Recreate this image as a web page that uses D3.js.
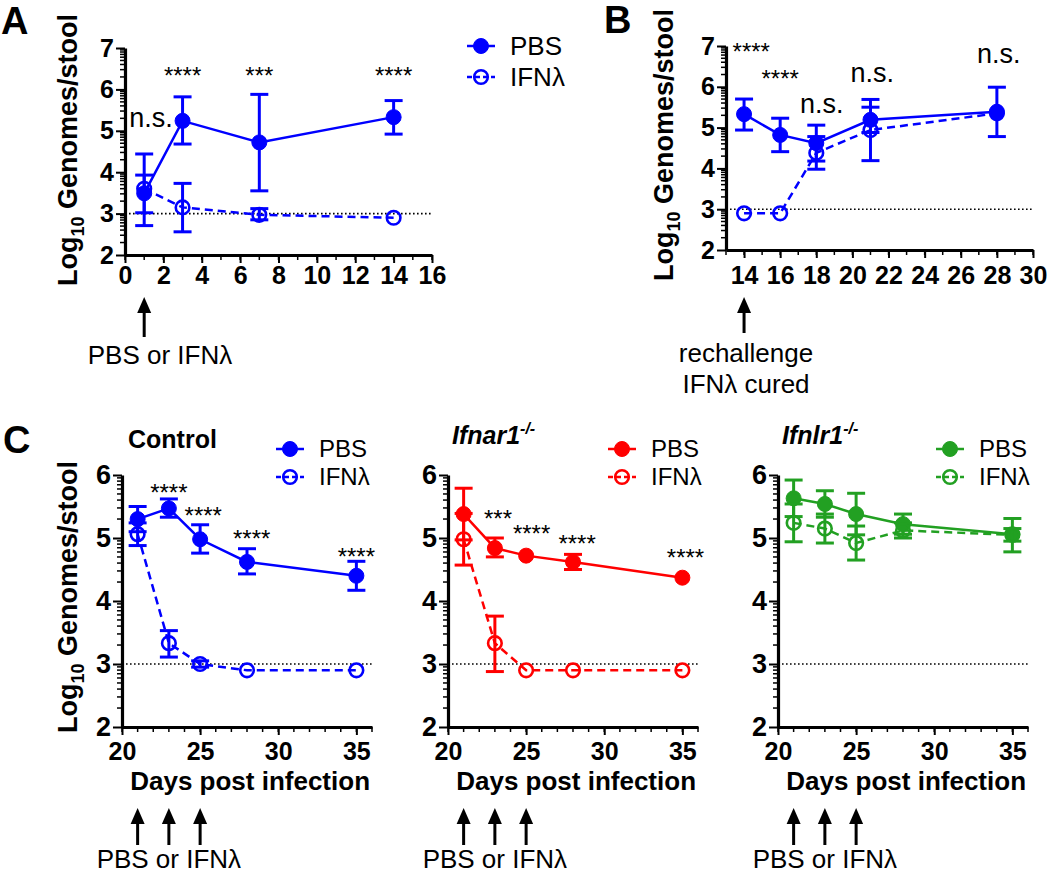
<!DOCTYPE html>
<html><head><meta charset="utf-8">
<script src="https://cdn.jsdelivr.net/npm/d3@7"></script>
<style>
body{margin:0;background:#fff}
svg text{font-family:"Liberation Sans",Arial,Helvetica,sans-serif;fill:#000}
</style>
</head><body>
<svg id="chart" width="1050" height="876"></svg>
<script>
// ---------------- DATA ----------------
// Panel A (days 1-14)
const daysA   = [1, 3, 7, 14];
const pbsA    = [3.49, 5.24, 4.72, 5.33];
const pbsA_lo = [3.02, 4.68, 3.55, 4.92];
const pbsA_hi = [3.93, 5.82, 5.88, 5.73];
const ifnA    = [3.60, 3.15, 2.97, 2.90];
const ifnA_lo = [2.71, 2.56, 2.85, null];
const ifnA_hi = [4.44, 3.73, 3.12, null];
const sigA    = ["n.s.", "****", "***", "****"];
const xTicksA = [0, 2, 4, 6, 8, 10, 12, 14, 16];

// Panel B (rechallenge)
const daysB   = [14, 16, 18, 21, 28];
const pbsB    = [5.33, 4.82, 4.62, 5.19, 5.39];
const pbsB_lo = [4.94, 4.41, 4.18, 4.88, 4.78];
const pbsB_hi = [5.70, 5.23, 5.06, 5.50, 5.99];
const ifnB    = [2.90, 2.90, 4.38, 4.94, 5.35];
const ifnB_lo = [null, null, 3.98, 4.19, null];
const ifnB_hi = [null, null, 4.78, 5.69, null];
const sigB    = ["****", "****", "n.s.", "n.s.", "n.s."];
const xTicksB = [14, 16, 18, 20, 22, 24, 26, 28, 30];

// Panel C (days 21-35)
const daysC   = [21, 23, 25, 28, 35];
// Control
const pbsC1    = [5.30, 5.47, 4.98, 4.62, 4.40];
const pbsC1_lo = [5.10, 5.33, 4.76, 4.43, 4.17];
const pbsC1_hi = [5.50, 5.62, 5.21, 4.83, 4.63];
const ifnC1    = [5.06, 3.33, 3.00, 2.90, 2.90];
const ifnC1_lo = [4.88, 3.11, 2.95, null, null];
const ifnC1_hi = [5.24, 3.53, 3.05, null, null];
const sigC1    = ["****", "****", "****", "****"];
// Ifnar1-/-
const pbsC2    = [5.38, 4.84, 4.72, 4.62, 4.37];
const pbsC2_lo = [4.97, 4.70, null, 4.50, null];
const pbsC2_hi = [5.79, 5.00, null, 4.74, null];
const ifnC2    = [4.98, 3.33, 2.90, 2.90, 2.90];
const ifnC2_lo = [4.57, 2.88, null, null, null];
const ifnC2_hi = [5.39, 3.76, null, null, null];
const sigC2    = ["***", "****", "****", "****"];
// Ifnlr1-/-
const pbsC3    = [5.63, 5.54, 5.38, 5.22, 5.06];
const pbsC3_lo = [5.34, 5.33, 5.05, 5.06, 4.78];
const pbsC3_hi = [5.92, 5.75, 5.71, 5.38, 5.31];
const ifnC3    = [5.24, 5.15, 4.92, 5.12, 5.05];
const ifnC3_lo = [4.94, 4.92, 4.65, 5.00, 4.95];
const ifnC3_hi = [5.54, 5.38, 5.19, 5.24, 5.15];
const sigC3    = [];
const xTicksC  = [20, 25, 30, 35];

const yTicksAB = [2, 3, 4, 5, 6, 7];
const yTicksC  = [2, 3, 4, 5, 6];
const detectionLimit = 3;

// ---------------- DRAWING ----------------
const svg = d3.select("#chart");
const BLUE = "#0000ff", RED = "#ff0000", GREEN = "#22a022";

function rows(days, m, lo, hi) {
  return days.map((d, i) => ({x: d, y: m[i], lo: lo[i], hi: hi[i]}));
}

function panel(cfg) {
  const x = d3.scaleLinear().domain(cfg.xDomain).range([cfg.left, cfg.right]);
  const y = d3.scaleLinear().domain(cfg.yDomain).range([cfg.bottom, cfg.top]);
  const g = svg.append("g");

  g.append("line")
    .attr("x1", x(cfg.xDomain[0])).attr("x2", x(cfg.xDomain[1]))
    .attr("y1", y(detectionLimit)).attr("y2", y(detectionLimit))
    .attr("stroke", "#000").attr("stroke-width", 1.6).attr("stroke-dasharray", "1.6,2.4");

  const minorY = [];
  for (let d = cfg.yDomain[0]; d < cfg.yDomain[1]; d++)
    for (let k = 2; k <= 9; k++) minorY.push(d + Math.log10(k));
  g.append("g").selectAll("line").data(minorY).join("line")
    .attr("x1", cfg.left - 5).attr("x2", cfg.left)
    .attr("y1", d => y(d)).attr("y2", d => y(d))
    .attr("stroke", "#000").attr("stroke-width", 1.5);

  const minorX = d3.range(Math.ceil(cfg.xDomain[0]), cfg.xDomain[1] + 0.001, 1);
  g.append("g").selectAll("line").data(minorX).join("line")
    .attr("x1", d => x(d)).attr("x2", d => x(d))
    .attr("y1", cfg.bottom).attr("y2", cfg.bottom + 5)
    .attr("stroke", "#000").attr("stroke-width", 1.5);

  const ya = g.append("g").attr("transform", `translate(${cfg.left},0)`)
    .call(d3.axisLeft(y).tickValues(cfg.yTicks).tickSize(9).tickSizeOuter(0).tickPadding(2).tickFormat(d3.format("d")));
  const xa = g.append("g").attr("transform", `translate(0,${cfg.bottom})`)
    .call(d3.axisBottom(x).tickValues(cfg.xTicks).tickSize(8).tickSizeOuter(0).tickPadding(cfg.xPad).tickFormat(d3.format("d")));
  [ya, xa].forEach(a => {
    a.select(".domain").attr("stroke-width", 3.2);
    a.selectAll(".tick line").attr("stroke-width", 2);
    a.selectAll("text").attr("font-size", cfg.tickFont).attr("font-weight", "bold")
      .style("font-family", '"Liberation Sans",Arial,sans-serif');
  });
  ya.selectAll("text").attr("font-size", cfg.yTickFont || cfg.tickFont);

  const line = d3.line().x(d => x(d.x)).y(d => y(d.y));
  cfg.series.forEach(s => {
    const sg = g.append("g");
    const eb = s.data.filter(d => d.lo != null);
    sg.selectAll("line.v").data(eb).join("line")
      .attr("x1", d => x(d.x)).attr("x2", d => x(d.x))
      .attr("y1", d => y(d.lo)).attr("y2", d => y(d.hi))
      .attr("stroke", cfg.color).attr("stroke-width", 3);
    ["lo", "hi"].forEach(k => {
      sg.selectAll("line.c" + k).data(eb).join("line")
        .attr("x1", d => x(d.x) - 9).attr("x2", d => x(d.x) + 9)
        .attr("y1", d => y(d[k])).attr("y2", d => y(d[k]))
        .attr("stroke", cfg.color).attr("stroke-width", 3);
    });
    sg.append("path").datum(s.data).attr("d", line)
      .attr("fill", "none").attr("stroke", cfg.color).attr("stroke-width", 2.5)
      .attr("stroke-dasharray", s.open ? "8,5" : null);
    sg.selectAll("circle").data(s.data).join("circle")
      .attr("cx", d => x(d.x)).attr("cy", d => y(d.y))
      .attr("r", s.open ? 6.8 : 7.5)
      .attr("fill", s.open ? "none" : cfg.color)
      .attr("stroke", cfg.color).attr("stroke-width", s.open ? 2.6 : 1);
  });

  (cfg.sig || []).forEach((t, i) => {
    const a = cfg.sigPos[i];
    g.append("text").attr("x", x(a[0])).attr("y", y(a[1]))
      .attr("text-anchor", "middle")
      .attr("font-size", t === "n.s." ? 27 : 24)
      .text(t);
  });

  (cfg.arrows || []).forEach(d => {
    const ax = x(d);
    g.append("line").attr("x1", ax).attr("x2", ax)
      .attr("y1", cfg.arrowTop + 12).attr("y2", cfg.arrowBottom)
      .attr("stroke", "#000").attr("stroke-width", 3);
    g.append("path")
      .attr("d", `M${ax - 7},${cfg.arrowTop + 16} L${ax},${cfg.arrowTop} L${ax + 7},${cfg.arrowTop + 16} Z`)
      .attr("fill", "#000");
  });
  return {x, y, g};
}

function legend(mx, y1, y2, color, fs) {
  const g = svg.append("g");
  [[y1, false, "PBS"], [y2, true, "IFNλ"]].forEach(([yy, open, lab]) => {
    g.append("line").attr("x1", mx - 14).attr("x2", mx + 14).attr("y1", yy).attr("y2", yy)
      .attr("stroke", color).attr("stroke-width", 2.5).attr("stroke-dasharray", open ? "5,3" : null);
    g.append("circle").attr("cx", mx).attr("cy", yy).attr("r", open ? 6.8 : 7.5)
      .attr("fill", open ? "none" : color).attr("stroke", color).attr("stroke-width", open ? 2.6 : 1);
    g.append("text").attr("x", mx + 29).attr("y", yy + fs * 0.35).attr("font-size", fs).text(lab);
  });
}

function yLabel(cx, cy) {
  const t = svg.append("text").attr("transform", `translate(${cx},${cy}) rotate(-90)`)
    .attr("text-anchor", "middle").attr("font-size", 27).attr("font-weight", "bold");
  t.append("tspan").text("Log");
  t.append("tspan").attr("font-size", 18).attr("dy", 7).text("10");
  t.append("tspan").attr("dy", -7).text(" Genomes/stool");
}

function letter(t, x, y) {
  svg.append("text").attr("x", x).attr("y", y).attr("font-size", 38).attr("font-weight", "bold").text(t);
}

// ----- Panel A -----
panel({
  left: 125, right: 432, top: 48, bottom: 255, xDomain: [0, 16], yDomain: [2, 7],
  xTicks: xTicksA, yTicks: yTicksAB, xPad: 3, tickFont: 25, color: BLUE,
  series: [{data: rows(daysA, pbsA, pbsA_lo, pbsA_hi), open: false},
           {data: rows(daysA, ifnA, ifnA_lo, ifnA_hi), open: true}],
  sig: sigA, sigPos: [[1.35, 5.10], [3, 6.13], [7, 6.13], [14, 6.13]],
  arrows: [1], arrowTop: 297, arrowBottom: 337
});
legend(481, 46, 77, BLUE, 26);
svg.append("text").attr("x", 160).attr("y", 364).attr("text-anchor", "middle").attr("font-size", 26).text("PBS or IFNλ");
yLabel(77, 150);
letter("A", 1, 34);

// ----- Panel B -----
panel({
  left: 726, right: 1033, top: 46, bottom: 250, xDomain: [13, 30], yDomain: [2, 7],
  xTicks: xTicksB, yTicks: yTicksAB, xPad: 8, tickFont: 25, color: BLUE,
  series: [{data: rows(daysB, pbsB, pbsB_lo, pbsB_hi), open: false},
           {data: rows(daysB, ifnB, ifnB_lo, ifnB_hi), open: true}],
  sig: sigB, sigPos: [[14.4, 6.66], [16, 6.0], [18.3, 5.36], [21.1, 6.12], [28.1, 6.58]],
  arrows: [14], arrowTop: 297, arrowBottom: 333
});
svg.append("text").attr("x", 746).attr("y", 362).attr("text-anchor", "middle").attr("font-size", 26).text("rechallenge");
svg.append("text").attr("x", 746).attr("y", 393).attr("text-anchor", "middle").attr("font-size", 26).text("IFNλ cured");
yLabel(673, 145);
letter("B", 604, 33);

// ----- Panel C -----
const cPanels = [
  {left: 122, pbs: [pbsC1, pbsC1_lo, pbsC1_hi], ifn: [ifnC1, ifnC1_lo, ifnC1_hi], sig: sigC1,
   sigPos: [[23, 5.59], [25.2, 5.22], [28.3, 4.85], [35, 4.57]], color: BLUE, legX: 290},
  {left: 448, pbs: [pbsC2, pbsC2_lo, pbsC2_hi], ifn: [ifnC2, ifnC2_lo, ifnC2_hi], sig: sigC2,
   sigPos: [[23.2, 5.17], [25.35, 4.93], [28.26, 4.78], [35.2, 4.55]], color: RED, legX: 622},
  {left: 778, pbs: [pbsC3, pbsC3_lo, pbsC3_hi], ifn: [ifnC3, ifnC3_lo, ifnC3_hi], sig: sigC3,
   sigPos: [], color: GREEN, legX: 950}
];
cPanels.forEach(c => {
  const p = panel({
    left: c.left, right: c.left + 250, top: 475, bottom: 727, xDomain: [20, 36], yDomain: [2, 6],
    xTicks: xTicksC, yTicks: yTicksC, xPad: 7, tickFont: 25, yTickFont: 27, color: c.color,
    series: [{data: rows(daysC, ...c.pbs), open: false},
             {data: rows(daysC, ...c.ifn), open: true}],
    sig: c.sig, sigPos: c.sigPos,
    arrows: [21, 23, 25], arrowTop: 808, arrowBottom: 845
  });
  svg.append("text").attr("x", p.x(28.2)).attr("y", 790).attr("text-anchor", "middle")
    .attr("font-size", 26).attr("font-weight", "bold").text("Days post infection");
  svg.append("text").attr("x", p.x(23)).attr("y", 868).attr("text-anchor", "middle")
    .attr("font-size", 26).text("PBS or IFNλ");
  legend(c.legX, 449, 477, c.color, 24);
});
svg.append("text").attr("x", 128).attr("y", 448).attr("font-size", 25).attr("font-weight", "bold").text("Control");
[["Ifnar1", 452], ["Ifnlr1", 782]].forEach(([t, x]) => {
  const tx = svg.append("text").attr("x", x).attr("y", 444).attr("font-size", 25)
    .attr("font-weight", "bold").attr("font-style", "italic");
  tx.append("tspan").text(t);
  tx.append("tspan").attr("font-size", 16).attr("dy", -10).text("-/-");
});
yLabel(77, 597);
letter("C", 3, 453);
</script>
</body></html>
